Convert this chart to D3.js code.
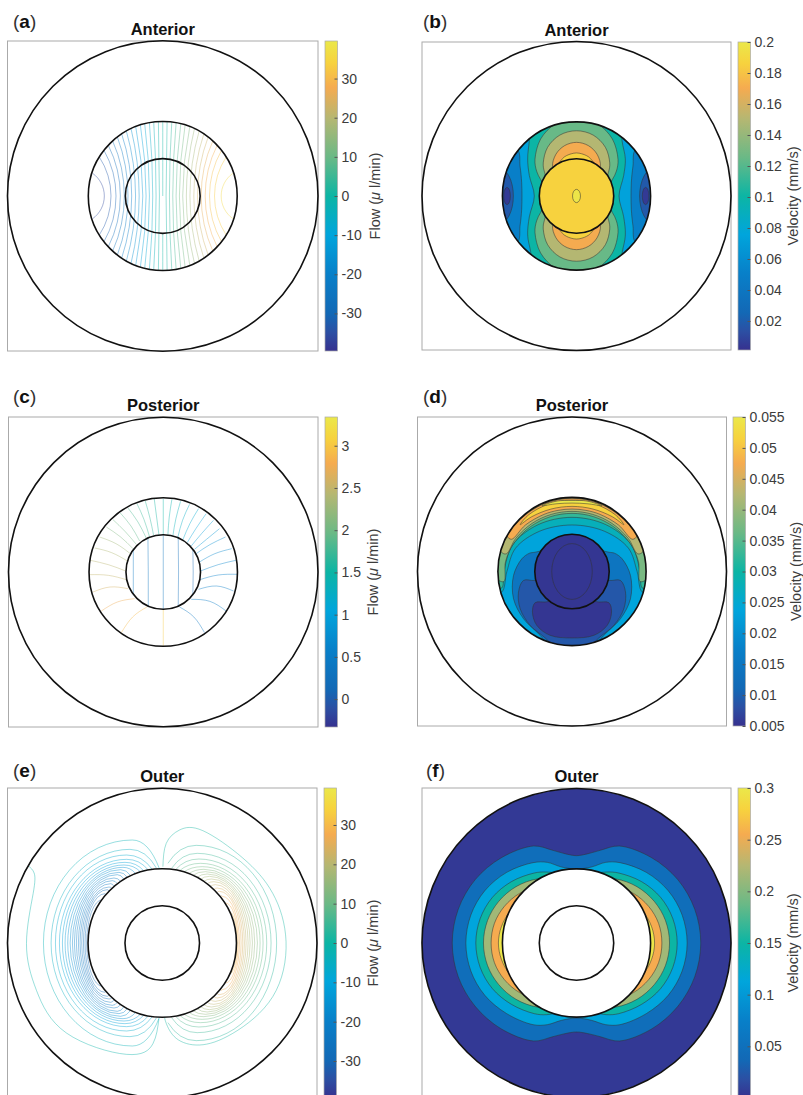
<!DOCTYPE html>
<html lang="en">
<head>
<meta charset="utf-8">
<title>Flow and velocity</title>
<script src="https://cdnjs.cloudflare.com/ajax/libs/d3/7.8.5/d3.min.js"></script>
<style>
body { margin: 0; background: #fff; }
svg { display: block; }
text { font-family: "Liberation Sans", Arial, sans-serif; fill: #3c3c3c; }
.title { font-size: 16.5px; font-weight: bold; fill: #111; text-anchor: middle; }
.tag { font-size: 19px; fill: #222; }
.tag tspan { font-weight: bold; fill: #111; }
.axis text { font-family: "Liberation Sans", Arial, sans-serif; font-size: 14px; fill: #3c3c3c; }
.axis line { stroke: #555; }
.axis path { display: none; }
.cbar-label { font-size: 14.5px; text-anchor: middle; }
.box { fill: #fff; stroke: #aaa; stroke-width: 1; }
.ring { fill: none; stroke: #111; stroke-width: 1.6; }
.flow { fill: none; stroke-width: 1; stroke-opacity: 0.42; }
.band { stroke: #333; stroke-width: 0.7; stroke-opacity: 0.75; }
</style>
</head>
<body>
<svg width="803" height="1095"></svg>
<script>
// positions are in units of the disc, outer radius = 465, y pointing down
var outerR = 465, midR = 223, innerR = 112;

var parulaStops = [[0, "#36318f"], [0.06, "#2c4fa3"], [0.12, "#1368b5"], [0.25, "#0880c9"], [0.375, "#00a5dc"],
  [0.5, "#0cb5a4"], [0.625, "#6ab986"], [0.75, "#b5b772"], [0.85, "#f5ab50"], [0.93, "#f7d23e"], [1, "#ebe84a"]];

// colour bars
var flowTicks = [-30, -20, -10, 0, 10, 20, 30];
var postFlowTicks = [0, 0.5, 1, 1.5, 2, 2.5, 3];
var antVelTicks = [0.02, 0.04, 0.06, 0.08, 0.1, 0.12, 0.14, 0.16, 0.18, 0.2];
var postVelTicks = [0.005, 0.01, 0.015, 0.02, 0.025, 0.03, 0.035, 0.04, 0.045, 0.05, 0.055];
var outerVelTicks = [0.05, 0.1, 0.15, 0.2, 0.25, 0.3];

// (a) contour lines, left half; right half has the opposite sign
var antFlowLevels = [-36, -33, -31, -28, -26, -23, -21, -18, -16, -13, -11, -8, -6, -3, -1];
var antFlowMidX = [-175, -155, -140, -127, -115, -104, -93, -82, -71, -60, -50, -40, -30, -20, -10];
var antFlowEdgeX = [-210, -190, -176, -163, -150, -136, -123, -109, -95, -81, -67, -54, -40, -27, -13];
var antFlowEdgeY = [68, 117, 137, 152, 165, 177, 186, 195, 202, 208, 213, 216, 219, 221, 222];
var antFlowCentre = [[[0, -223], [0, -100], [0, 0]], [[0, 112], [0, 170], [0, 223]]];

// (b) filled bands, painted in this order; ellipses are [cx, cy, rx, ry]
var antVelSideLevels = [0.05, 0.05];
var antVelSides = [
  [[-178, -140], [-170, -90], [-165, -40], [-165, 40], [-170, 90], [-178, 140], [-250, 140], [-250, -140]],
  [[178, -140], [170, -90], [165, -40], [165, 40], [170, 90], [178, 140], [250, 140], [250, -140]]
];
var antVelEllipseLevels = [0.018, 0.018, 0.005, 0.005];
var antVelEllipses = [[-235, 0, 45, 85], [235, 0, 45, 85], [-209, 0, 10, 26], [208, 0, 10, 26]];
var antVelLevels = [0.1, 0.125, 0.125, 0.15, 0.15, 0.17, 0.17, 0.186, 0.186];
var antVelShapes = [
  [[-135, -240], [-142, -167], [-147, -112], [-142, -62], [-127, 0], [-142, 63], [-147, 118], [-138, 168], [-125, 240], [125, 240], [138, 168], [147, 118], [142, 63], [128, 0], [142, -62], [147, -112], [137, -167], [132, -240]],
  [[-90, -25], [-108, -50], [-120, -75], [-125, -110], [-108, -172], [-63, -218], [0, -235], [63, -218], [108, -172], [125, -110], [120, -75], [108, -50], [90, -25], [0, -20]],
  [[-90, 25], [-108, 50], [-120, 75], [-125, 110], [-108, 172], [-63, 218], [0, 235], [63, 218], [108, 172], [125, 110], [120, 75], [108, 50], [90, 25], [0, 20]],
  [[-85, -50], [-97, -75], [-100, -100], [-87, -147], [-50, -184], [0, -197], [50, -184], [87, -147], [100, -100], [97, -75], [85, -50], [0, -30]],
  [[-85, 50], [-97, 75], [-100, 100], [-87, 147], [-50, 184], [0, 197], [50, 184], [87, 147], [100, 100], [97, 75], [85, 50], [0, 30]],
  [[-60, -70], [-72, -90], [-62, -126], [-36, -152], [0, -162], [36, -152], [62, -126], [72, -90], [60, -70], [0, -50]],
  [[-60, 70], [-72, 90], [-62, 126], [-36, 152], [0, 162], [36, 152], [62, 126], [72, 90], [60, 70], [0, 50]],
  [[-55, -90], [-43, -112], [-30, -122], [0, -130], [30, -122], [43, -112], [55, -90], [0, -60]],
  [[-55, 90], [-43, 112], [-30, 122], [0, 130], [30, 122], [43, 112], [55, 90], [0, 60]]
];
var antVelInnerLevel = 0.186;
var antVelCoreLevel = 0.198;
var antVelCore = [0, 0, 12, 20];

// (c) contour lines
var postFlowLevels = [0.45, 0.35, 0.3, 0.2, 0.1,
  1.5, 1.42, 1.35, 1.25, 1.15, 1.05, 0.95, 0.85, 0.78, 0.7, 0.65, 0.6, 0.55, 0.5, 0.42,
  3, 2.9, 2.75, 2.6, 2.5, 2.45, 2.4, 2.3, 2.1, 2, 1.9, 1.8, 1.7, 1.65, 1.55];
var postFlowLines = [
  [[-90, -70], [-90, 0], [-90, 70]],
  [[-46, -102], [-45, 0], [-45, 102]],
  [[0, -112], [0, 0], [0, 112]],
  [[45, -102], [46, 0], [45, 102]],
  [[89, -70], [90, 0], [89, 70]],
  [[0, -220], [0, -165], [0, -112]],
  [[26, -218], [18, -165], [14, -112]],
  [[52, -212], [38, -160], [29, -109]],
  [[79, -203], [58, -155], [44, -105]],
  [[106, -190], [80, -145], [59, -97]],
  [[129, -175], [98, -130], [72, -88]],
  [[151, -155], [115, -115], [84, -78]],
  [[169, -130], [130, -98], [94, -68]],
  [[187, -105], [140, -82], [99, -55]],
  [[206, -70], [155, -55], [109, -30]],
  [[218, -35], [165, -22], [112, -3]],
  [[222, 7], [165, 9], [110, 23]],
  [[211, 57], [160, 42], [106, 52]],
  [[189, 117], [140, 88], [84, 82]],
  [[124, 182], [92, 135], [49, 105]],
  [[0, 222], [0, 165], [0, 113]],
  [[-126, 182], [-92, 135], [-49, 105]],
  [[-186, 117], [-138, 90], [-86, 80]],
  [[-211, 60], [-160, 45], [-106, 50]],
  [[-221, 8], [-165, 10], [-111, 23]],
  [[-219, -35], [-165, -22], [-113, -3]],
  [[-206, -72], [-155, -58], [-106, -32]],
  [[-191, -105], [-142, -85], [-99, -55]],
  [[-171, -135], [-128, -105], [-91, -70]],
  [[-151, -157], [-115, -122], [-81, -83]],
  [[-129, -177], [-97, -138], [-71, -93]],
  [[-106, -192], [-76, -150], [-51, -102]],
  [[-79, -205], [-58, -158], [-41, -105]],
  [[-54, -213], [-40, -162], [-29, -110]],
  [[-27, -219], [-20, -165], [-13, -112]]
];

// (d) top crescents first, then the low lobes over them
var postVelBase = 0.0235;
var postVelLevels = [0.0275, 0.0325, 0.0375, 0.0425, 0.0475, 0.0515, 0.055, 0.0145, 0.009, 0.0055];
var postVelShapes = [
  [[-212, 62], [-196, 0], [-170, -70], [-98, -121], [0, -140], [98, -121], [170, -70], [196, 0], [212, 62], [260, 60], [260, -260], [-260, -260], [-260, 60]],
  [[-212, 50], [-205, 0], [-178, -81], [-102, -141], [0, -163], [102, -141], [178, -81], [205, 0], [212, 50], [260, 50], [260, -260], [-260, -260], [-260, 50]],
  [[-205, 30], [-200, -30], [-175, -85], [-125, -135], [-65, -165], [0, -175], [65, -165], [125, -135], [175, -85], [200, -30], [205, 30], [228, 20], [240, -100], [0, -260], [-240, -100], [-228, 20]],
  [[-198, -53], [-169, -100], [-120, -145], [-62, -172], [0, -181], [62, -172], [120, -145], [169, -100], [198, -53], [214, -60], [230, -120], [0, -250], [-230, -120], [-214, -60]],
  [[-182, -97], [-140, -140], [-84, -172], [-42, -184], [0, -188], [42, -184], [84, -172], [140, -140], [182, -97], [195, -107], [155, -158], [85, -203], [0, -220], [-85, -203], [-155, -158], [-195, -107]],
  [[-156, -141], [-121, -165], [-63, -188], [0, -196], [63, -188], [121, -165], [156, -141], [130, -171], [70, -203], [0, -215], [-70, -203], [-130, -171]],
  [[-90, -198], [-45, -204], [0, -206], [45, -204], [90, -198], [45, -212], [0, -214], [-45, -212]],
  [[-111, -58], [-128, -55], [-151, -38], [-176, 12], [-176, 82], [-146, 142], [-96, 192], [-50, 245], [50, 245], [96, 192], [146, 142], [176, 82], [176, 12], [151, -38], [128, -55], [111, -58], [0, -80]],
  [[-111, 27], [-146, 27], [-161, 62], [-156, 112], [-126, 162], [-76, 204], [-40, 245], [40, 245], [76, 204], [126, 162], [156, 112], [161, 62], [146, 27], [111, 27], [0, 0]],
  [[-70, 90], [-111, 94], [-119, 122], [-106, 162], [-66, 192], [0, 200], [66, 192], [106, 162], [119, 122], [111, 94], [70, 90], [0, 40]]
];
var postVelInnerLevel = 0.0055;
var postVelCoreLevel = 0.0055;
var postVelCore = [0, 0, 61, 84];

// (e) open contours traced point by point
var outerFlowOpen = [
  { level: -1, line: [[-403, -232], [-385, -210], [-388, -148], [-408, 2], [-378, 142], [-288, 270], [-108, 334], [-28, 302], [-10, 227]] },
  { level: 1, line: [[2, -229], [12, -299], [52, -339], [122, -337], [242, -255], [332, -149], [372, -4], [332, 161], [212, 271], [112, 306], [42, 286], [12, 241], [7, 221]] }
];
// nested contours: [x at midline, x of the peak, height of the peak, x and y where it meets the ring]
var outerFlowLeftLevels = [-3, -5, -7, -9, -11, -13, -15, -16, -18, -19, -21, -22, -24, -25, -27, -28, -30];
var outerFlowLeft = [
  [-357, -90, 309, -9, 224], [-334, -97, 281, -17, 224], [-321, -107, 264, -30, 221], [-309, -107, 251, -42, 219],
  [-300, -112, 242, -55, 216], [-292, -115, 234, -65, 213], [-284, -118, 227, -80, 208], [-277, -125, 220, -95, 202],
  [-270, -130, 212, -105, 197], [-264, -135, 205, -115, 191], [-258, -145, 195, -125, 185], [-252, -150, 187, -135, 178],
  [-247, -155, 178, -145, 170], [-242, -160, 168, -152, 165], [-237, -165, 160, -160, 155], [-232, -172, 148, -170, 145],
  [-227, -180, 130, -178, 135]
];
var outerFlowRightLevels = [3, 5, 7, 9, 11, 13, 15, 16, 18, 19, 21, 22, 24, 25, 27, 28, 30];
var outerFlowRight = [
  [344, 102, 293, 17, 239], [327, 105, 269, 28, 224], [314, 110, 252, 40, 220], [303, 115, 239, 52, 217],
  [294, 120, 229, 65, 213], [286, 125, 221, 80, 208], [278, 130, 214, 92, 203], [271, 135, 207, 105, 197],
  [264, 142, 200, 115, 191], [258, 148, 192, 125, 185], [252, 155, 184, 135, 178], [247, 160, 175, 145, 170],
  [242, 165, 165, 155, 160], [237, 172, 155, 165, 152], [232, 180, 140, 178, 143], [228, 190, 120, 190, 117],
  [225, 200, 95, 200, 100]
];

// (f) bands around the ring, right half from top to bottom
var outerVelBase = 0.005;
var outerVelLevels = [0.045, 0.1125, 0.15, 0.215, 0.255, 0.298];
var outerVelHalves = [
  [[0, -262], [35, -268], [71, -278], [129, -291], [226, -256], [305, -190], [356, -101], [374, 0], [356, 101], [305, 190], [226, 258], [129, 294], [71, 281], [35, 272], [0, 267]],
  [[0, -222], [45, -228], [88, -242], [131, -241], [210, -212], [276, -157], [318, -84], [333, 0], [318, 84], [276, 157], [210, 212], [131, 245], [88, 245], [45, 232], [0, 225]],
  [[0, -200], [45, -207], [90, -213], [127, -210], [196, -184], [253, -137], [290, -73], [303, 0], [290, 73], [253, 137], [196, 184], [127, 212], [90, 215], [45, 207], [0, 200]],
  [[0, -180], [60, -190], [119, -192], [182, -169], [234, -125], [268, -67], [280, 0], [268, 67], [234, 125], [182, 169], [119, 192], [60, 190], [0, 180]],
  [[0, -130], [50, -150], [115, -169], [171, -149], [217, -110], [247, -59], [257, 0], [247, 59], [217, 110], [171, 149], [115, 169], [50, 150], [0, 130]],
  [[0, -60], [100, -100], [163, -125], [201, -93], [226, -49], [235, 0], [226, 49], [201, 93], [163, 125], [100, 100], [0, 60]]
];

var svg = d3.select("svg");
var defs = svg.append("defs");

function colourFor(domain) {
  var frac = d3.scaleLinear().domain(domain).range([0, 1]);
  var ramp = d3.scaleLinear().domain(parulaStops.map(function(s) { return s[0]; }))
      .range(parulaStops.map(function(s) { return s[1]; }));
  return function(v) { return ramp(frac(v)); };
}

// sets up the box, colour bar and titles; returns what the marks need
function panel(o) {
  var x = d3.scaleLinear().domain([-outerR, outerR]).range([o.x0, o.x1]);
  var y = d3.scaleLinear().domain([-outerR, outerR]).range([o.y0, o.y1]);
  var g = svg.append("g");
  var colour = colourFor(o.domain);

  g.append("rect").attr("class", "box")
      .attr("x", o.x0).attr("y", o.y0).attr("width", o.x1 - o.x0).attr("height", o.y1 - o.y0);

  g.append("text").attr("class", "title").attr("x", x(0)).attr("y", o.titleY).text(o.title);
  var tag = g.append("text").attr("class", "tag").attr("x", o.tagX).attr("y", o.tagY);
  tag.append("tspan").style("font-weight", "normal").style("fill", "#333").text("(");
  tag.append("tspan").text(o.tag);
  tag.append("tspan").style("font-weight", "normal").style("fill", "#333").text(")");

  var grad = defs.append("linearGradient").attr("id", "bar-" + o.tag)
      .attr("x1", 0).attr("y1", 1).attr("x2", 0).attr("y2", 0);
  grad.selectAll("stop").data(parulaStops).enter().append("stop")
      .attr("offset", function(d) { return d[0]; })
      .attr("stop-color", function(d) { return d[1]; });
  g.append("rect").attr("x", o.barX).attr("y", o.y0).attr("width", 12.5).attr("height", o.y1 - o.y0)
      .attr("fill", "url(#bar-" + o.tag + ")").attr("stroke", "#aaa").attr("stroke-width", 0.7);

  var scale = d3.scaleLinear().domain(o.domain).range([o.y1, o.y0]);
  g.append("g").attr("class", "axis")
      .attr("transform", "translate(" + (o.barX + 12.5) + ",0)")
      .call(d3.axisRight(scale).tickValues(o.ticks).tickSizeOuter(0).tickSizeInner(-3).tickPadding(4).tickFormat(String));

  var lab = g.append("text").attr("class", "cbar-label")
      .attr("transform", "translate(" + o.labelX + "," + y(0) + ") rotate(-90)");
  if (o.flow) {
    lab.append("tspan").text("Flow (");
    lab.append("tspan").style("font-style", "italic").text("\u03bc");
    lab.append("tspan").text(" l/min)");
  } else {
    lab.text("Velocity (mm/s)");
  }

  var clip = defs.append("clipPath").attr("id", "clip-" + o.tag);
  clip.append("circle").attr("cx", x(0)).attr("cy", y(0)).attr("r", x(o.clipR) - x(0));

  return {
    g: g, x: x, y: y, colour: colour,
    marks: g.append("g").attr("clip-path", "url(#clip-" + o.tag + ")"),
    open: d3.line().x(function(d) { return x(d[0]); }).y(function(d) { return y(d[1]); }).curve(d3.curveNatural),
    closed: d3.line().x(function(d) { return x(d[0]); }).y(function(d) { return y(d[1]); }).curve(d3.curveCatmullRomClosed.alpha(0.5)),
    disc: function(sel, r, fill) {
      sel.append("circle").attr("cx", x(0)).attr("cy", y(0)).attr("r", x(r) - x(0)).attr("fill", fill);
    }
  };
}

function rings(p) {
  [outerR, midR, innerR].forEach(function(r) {
    p.g.append("circle").attr("class", "ring").attr("cx", p.x(0)).attr("cy", p.y(0)).attr("r", p.x(r) - p.x(0));
  });
}

function flowLine(p, pts, level) {
  p.marks.append("path").attr("class", "flow").attr("d", p.open(pts)).attr("stroke", p.colour(level));
}

// a contour of (a): circular arc between its two edge points, through the midline crossing
function flowArc(p, edgeX, edgeY, midX, sweep, level) {
  var h = p.y(edgeY) - p.y(0);
  var s = Math.abs(p.x(midX) - p.x(edgeX));
  var r = (h * h + s * s) / (2 * s);
  var d = "M" + p.x(edgeX) + "," + p.y(-edgeY) + "A" + r + "," + r + " 0 0 " + sweep + " " + p.x(edgeX) + "," + p.y(edgeY);
  p.marks.append("path").attr("class", "flow").attr("d", d).attr("stroke", p.colour(level));
}

function band(p, pts, level) {
  p.marks.append("path").attr("class", "band").attr("d", p.closed(pts)).attr("fill", p.colour(level));
}

function ellipseBand(p, e, level) {
  p.marks.append("ellipse").attr("class", "band")
      .attr("cx", p.x(e[0])).attr("cy", p.y(e[1]))
      .attr("rx", p.x(e[2]) - p.x(0)).attr("ry", p.y(e[3]) - p.y(0))
      .attr("fill", p.colour(level));
}

// closes a right half with its reflection
function bothSides(half) {
  return half.concat(half.slice(1, -1).reverse().map(function(d) { return [-d[0], d[1]]; }));
}

// a nested contour of (e): hook from the ring to the peak, half ellipse through the midline, hook back
function nestedContour(p, row, sweep, level) {
  var xm = row[0], px = row[1], py = row[2], ex = row[3], ey = row[4];
  var rx = Math.abs(p.x(xm) - p.x(px)), ry = p.y(py) - p.y(0);
  var hook = px + (ex - px) * 0.6;
  var d = "M" + p.x(ex) + "," + p.y(-ey) +
      "Q" + p.x(hook) + "," + p.y(-py) + " " + p.x(px) + "," + p.y(-py) +
      "A" + rx + "," + ry + " 0 0 " + sweep + " " + p.x(px) + "," + p.y(py) +
      "Q" + p.x(hook) + "," + p.y(py) + " " + p.x(ex) + "," + p.y(ey);
  p.marks.append("path").attr("class", "flow").attr("d", d).attr("stroke", p.colour(level));
}

// (a)
var pa = panel({ tag: "a", title: "Anterior", flow: true, x0: 7.5, x1: 318, y0: 41, y1: 351, barX: 325, titleY: 35, tagX: 13, tagY: 28,
  labelX: 380, domain: [-39.6, 39.6], ticks: flowTicks, clipR: midR });
antFlowLevels.forEach(function(level, i) {
  flowArc(pa, antFlowEdgeX[i], antFlowEdgeY[i], antFlowMidX[i], 1, level);
  flowArc(pa, -antFlowEdgeX[i], antFlowEdgeY[i], -antFlowMidX[i], 0, -level);
});
antFlowCentre.forEach(function(seg) { flowLine(pa, seg, 0); });
rings(pa);

// (b)
var pb = panel({ tag: "b", title: "Anterior", flow: false, x0: 422, x1: 731, y0: 42, y1: 350, barX: 738, titleY: 35.5, tagX: 423, tagY: 28,
  labelX: 798, domain: [0.0013, 0.2], ticks: antVelTicks, clipR: midR });
pb.disc(pb.marks, midR, pb.colour(0.074));
antVelSides.forEach(function(s, i) { band(pb, s, antVelSideLevels[i]); });
antVelEllipses.forEach(function(e, i) { ellipseBand(pb, e, antVelEllipseLevels[i]); });
antVelShapes.forEach(function(s, i) { band(pb, s, antVelLevels[i]); });
pb.disc(pb.marks, innerR, pb.colour(antVelInnerLevel));
ellipseBand(pb, antVelCore, antVelCoreLevel);
rings(pb);

// (c)
var pc = panel({ tag: "c", title: "Posterior", flow: true, x0: 8.5, x1: 318, y0: 417, y1: 727, barX: 325, titleY: 410.5, tagX: 13, tagY: 402.5,
  labelX: 378, domain: [-0.33, 3.34], ticks: postFlowTicks, clipR: midR });
postFlowLines.forEach(function(line, i) { flowLine(pc, line, postFlowLevels[i]); });
rings(pc);

// (d)
var pd = panel({ tag: "d", title: "Posterior", flow: false, x0: 417.5, x1: 726.5, y0: 417, y1: 726, barX: 733, titleY: 410.5, tagX: 423, tagY: 402.5,
  labelX: 801, domain: [0.005, 0.055], ticks: postVelTicks, clipR: midR });
pd.disc(pd.marks, midR, pd.colour(postVelBase));
postVelShapes.forEach(function(s, i) { band(pd, s, postVelLevels[i]); });
pd.disc(pd.marks, innerR, pd.colour(postVelInnerLevel));
ellipseBand(pd, postVelCore, postVelCoreLevel);
rings(pd);

// (e)
var pe = panel({ tag: "e", title: "Outer", flow: true, x0: 7.5, x1: 317, y0: 788, y1: 1098, barX: 324, titleY: 782, tagX: 13, tagY: 777,
  labelX: 378, domain: [-39.4, 39.4], ticks: flowTicks, clipR: outerR });
outerFlowOpen.forEach(function(c) { flowLine(pe, c.line, c.level); });
outerFlowLeft.forEach(function(row, i) { nestedContour(pe, row, 0, outerFlowLeftLevels[i]); });
outerFlowRight.forEach(function(row, i) { nestedContour(pe, row, 1, outerFlowRightLevels[i]); });
pe.disc(pe.marks, midR, "#fff");
rings(pe);

// (f)
var pf = panel({ tag: "f", title: "Outer", flow: false, x0: 422, x1: 731, y0: 788, y1: 1098, barX: 738, titleY: 782, tagX: 426, tagY: 777,
  labelX: 798, domain: [0, 0.3], ticks: outerVelTicks, clipR: outerR });
pf.disc(pf.marks, outerR, pf.colour(outerVelBase));
outerVelHalves.forEach(function(h, i) { band(pf, bothSides(h), outerVelLevels[i]); });
pf.disc(pf.marks, midR, "#fff");
rings(pf);
</script>
</body>
</html>
